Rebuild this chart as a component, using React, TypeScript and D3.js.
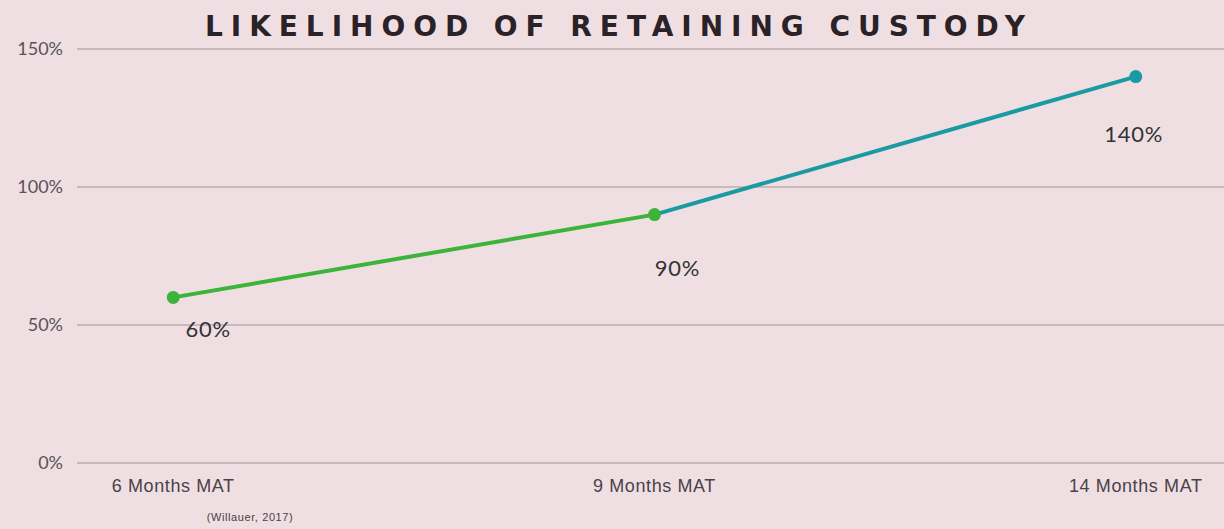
import React, { useEffect, useRef } from 'react';
import * as d3 from 'd3';

const categories = ["6 Months MAT", "9 Months MAT", "14 Months MAT"];
const values = [60, 90, 140];
const valueLabels = ["60%", "90%", "140%"];
const yTicks = [0, 50, 100, 150];
const pointColors = ["#3cb43a", "#3cb43a", "#1a9ba2"];

// label offsets below each point (layout, not data)
const labelOffsets = [
  { dx: 35, dy: 40 },
  { dx: 23, dy: 61 },
  { dx: -2, dy: 65 },
];

const App: React.FC = () => {
  const ref = useRef<SVGSVGElement | null>(null);

  useEffect(() => {
    if (!ref.current) return;
    const W = 1224, H = 529;
    const svg = d3.select(ref.current);
    svg.selectAll("*").remove();

    svg.append("rect").attr("width", W).attr("height", H).attr("fill", "#efdfe3");

    const x = d3.scalePoint<string>().domain(categories).range([77, 1232]).padding(0.2);
    const y = d3.scaleLinear().domain([0, 150]).range([463, 49]);

    svg.append("g")
      .selectAll("line")
      .data(yTicks)
      .join("line")
      .attr("x1", 77)
      .attr("x2", W)
      .attr("y1", d => y(d))
      .attr("y2", d => y(d))
      .attr("stroke", "#c9b9be")
      .attr("stroke-width", 2);

    svg.append("g")
      .selectAll("text")
      .data(yTicks)
      .join("text")
      .attr("x", 63)
      .attr("y", d => y(d))
      .attr("dy", "0.35em")
      .attr("text-anchor", "end")
      .attr("font-family", "Lato, sans-serif")
      .attr("font-size", 18)
      .attr("fill", "#5a5256")
      .text(d => `${d}%`);

    svg.append("g")
      .selectAll("text")
      .data(categories)
      .join("text")
      .attr("x", d => x(d) as number)
      .attr("y", 492)
      .attr("text-anchor", "middle")
      .attr("font-family", "Liberation Sans, Arial, sans-serif")
      .attr("font-size", 18)
      .attr("letter-spacing", 0.6)
      .attr("fill", "#4a4246")
      .text(d => d);

    const pts = categories.map((c, i) => ({ c, v: values[i], i }));

    // segments, coloured by the end point
    svg.append("g")
      .selectAll("line")
      .data(pts.slice(1))
      .join("line")
      .attr("x1", d => x(categories[d.i - 1]) as number)
      .attr("y1", d => y(values[d.i - 1]))
      .attr("x2", d => x(d.c) as number)
      .attr("y2", d => y(d.v))
      .attr("stroke", d => pointColors[d.i])
      .attr("stroke-width", 4)
      .attr("stroke-linecap", "round");

    svg.append("g")
      .selectAll("circle")
      .data(pts)
      .join("circle")
      .attr("cx", d => x(d.c) as number)
      .attr("cy", d => y(d.v))
      .attr("r", 6.5)
      .attr("fill", d => pointColors[d.i]);

    svg.append("g")
      .selectAll("text")
      .data(pts)
      .join("text")
      .attr("x", d => (x(d.c) as number) + labelOffsets[d.i].dx)
      .attr("y", d => y(d.v) + labelOffsets[d.i].dy)
      .attr("text-anchor", "middle")
      .attr("font-family", "Lato, sans-serif")
      .attr("font-size", 22)
      .attr("letter-spacing", 0.8)
      .attr("fill", "#333")
      .text(d => valueLabels[d.i]);

    svg.append("text")
      .attr("x", 205)
      .attr("y", 36)
      .attr("textLength", 820)
      .attr("lengthAdjust", "spacing")
      .attr("font-family", "DejaVu Sans, sans-serif")
      .attr("font-weight", "bold")
      .attr("font-size", 28)
      .attr("fill", "#2a2226")
      .text("LIKELIHOOD OF RETAINING CUSTODY");

    svg.append("text")
      .attr("x", 250)
      .attr("y", 521)
      .attr("text-anchor", "middle")
      .attr("font-family", "Liberation Sans, Arial, sans-serif")
      .attr("font-size", 11)
      .attr("letter-spacing", 0.6)
      .attr("fill", "#4a4246")
      .text("(Willauer, 2017)");
  }, []);

  return (
    <svg ref={ref} width={1224} height={529}
      style={{ position: "absolute", left: 0, top: 0, display: "block" }} />
  );
};

export default App;
